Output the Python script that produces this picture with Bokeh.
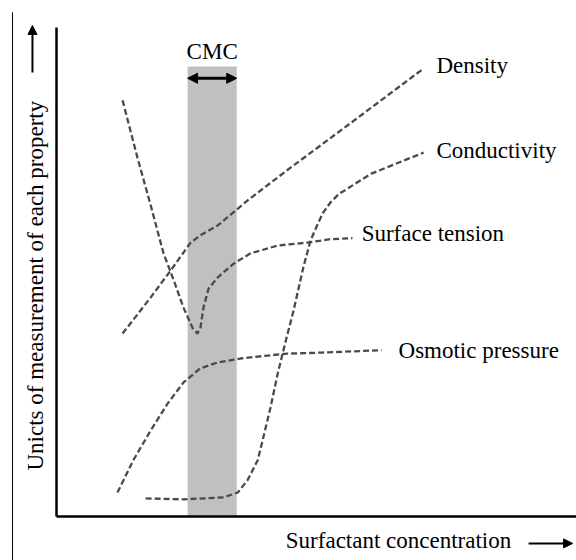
import numpy as np
from bokeh.plotting import figure
from bokeh.models import Range1d, LinearAxis, FixedTicker, Label, Arrow, NormalHead
from bokeh.embed import file_html
from bokeh.resources import INLINE

# ---- data (schematic units: concentration 0-100, property 0-100) ----
density_x = [12.9, 18.4, 22.3, 26.2, 28.1, 31.5, 37.3, 45.3, 57.4, 71.7]
density_y = [37.4, 44.8, 50.3, 56.0, 57.5, 59.5, 64.6, 71.0, 80.4, 91.6]

surface_x = [12.9, 15.8, 18.4, 20.9, 22.9, 24.8, 26.6, 27.5, 28.1, 28.7, 29.7, 31.5, 34.6, 37.9, 43.2, 49.0, 53.5, 57.8]
surface_y = [85.1, 73.4, 63.6, 53.8, 48.3, 42.7, 38.5, 37.4, 38.5, 42.7, 46.6, 48.9, 51.7, 53.8, 55.4, 56.0, 56.7, 56.9]

conduct_x = [17.4, 24.8, 32.6, 35.4, 37.3, 39.3, 40.4, 41.8, 43.2, 44.7, 46.3, 48.2, 49.6, 50.8, 52.0, 53.5, 55.1, 61.5, 71.7]
conduct_y = [3.7, 3.5, 3.9, 4.9, 7.4, 11.5, 16.2, 22.3, 29.2, 35.6, 42.1, 50.9, 56.4, 59.3, 62.0, 64.2, 65.9, 70.1, 74.4]

osmotic_x = [11.9, 15.0, 18.4, 21.7, 24.8, 28.1, 31.5, 35.9, 41.2, 45.1, 51.6, 63.5]
osmotic_y = [4.9, 11.5, 17.6, 23.1, 27.4, 30.3, 31.5, 32.3, 32.9, 33.3, 33.5, 34.0]

series_names = ["Density", "Conductivity", "Surface tension", "Osmotic pressure"]
label_x = [74.2, 74.2, 59.6, 66.8]
label_y = [92.2, 74.8, 57.9, 34.0]

cmc_left = [25.6]
cmc_right = [35.2]
cmc_top = [92.0]
cmc_bottom = [0.0]

x_title = "Surfactant concentration"
y_title = "Unicts of measurement of each property"

FONT = "Liberation Serif"
FS = "23px"

X0, X1 = -10.94, 101.56
Y0, Y1 = -9.0, 105.5

p = figure(width=576, height=560, output_backend="svg", toolbar_location=None,
           x_range=Range1d(X0, X1), y_range=Range1d(Y0, Y1),
           x_axis_type=None, y_axis_type=None,
           min_border=0, min_border_left=0, min_border_top=0,
           min_border_bottom=0, min_border_right=0)
p.outline_line_color = None
p.background_fill_color = "white"
p.border_fill_color = "white"

# thin frame line on the left edge
p.segment(x0=[-8.6], y0=[103.1], x1=[-8.6], y1=[Y0], line_color="black", line_width=1)

# axes drawn inside the frame at the origin
for loc, bnds in (("left", (0, 100)), ("below", (0, X1))):
    ax = LinearAxis(ticker=FixedTicker(ticks=[]), fixed_location=0, bounds=bnds)
    ax.axis_line_width = 2.5
    ax.axis_line_color = "black"
    ax.major_tick_line_color = None
    ax.minor_tick_line_color = None
    ax.major_tick_out = 0
    ax.major_tick_in = 0
    ax.major_label_standoff = 0
    ax.major_label_text_font_size = "0px"
    p.add_layout(ax, loc)

# CMC band
p.quad(left=cmc_left, right=cmc_right, top=cmc_top, bottom=cmc_bottom,
       fill_color="#c0c0c0", line_color=None)

# curves
for xs, ys in [(density_x, density_y), (surface_x, surface_y),
               (conduct_x, conduct_y), (osmotic_x, osmotic_y)]:
    p.line(xs, ys, line_color="#4a4a4a", line_width=2.3, line_dash="6 3")

for name, lx, ly in zip(series_names, label_x, label_y):
    p.add_layout(Label(x=lx, y=ly, text=name, text_font=FONT, text_font_size=FS,
                       text_align="left", text_baseline="middle", text_color="black"))

# CMC text and double arrow
p.add_layout(Label(x=(cmc_left[0] + cmc_right[0]) / 2, y=95.0, text="CMC", text_font=FONT,
                   text_font_size=FS, text_align="center", text_baseline="middle",
                   text_color="black"))
p.add_layout(Arrow(x_start=cmc_left[0], y_start=89.6, x_end=cmc_right[0], y_end=89.6,
                   line_width=3, line_color="black",
                   start=NormalHead(size=10, fill_color="black", line_color="black"),
                   end=NormalHead(size=10, fill_color="black", line_color="black")))

# axis titles with arrows
p.add_layout(Label(x=66.8, y=-5.0, text=x_title, text_font=FONT, text_font_size=FS,
                   text_align="center", text_baseline="middle", text_color="black"))
p.add_layout(Arrow(x_start=92.2, y_start=-5.5, x_end=100.8, y_end=-5.5,
                   line_width=2, line_color="black",
                   end=NormalHead(size=9, fill_color="black", line_color="black")))
p.add_layout(Label(x=-4.1, y=47.2, text=y_title, text_font=FONT, text_font_size=FS,
                   angle=np.pi / 2, text_align="center", text_baseline="middle",
                   text_color="black"))
p.add_layout(Arrow(x_start=-4.7, y_start=90.8, x_end=-4.7, y_end=100.4,
                   line_width=2, line_color="black",
                   end=NormalHead(size=9, fill_color="black", line_color="black")))

open("out.html", "w").write(file_html(p, INLINE))
